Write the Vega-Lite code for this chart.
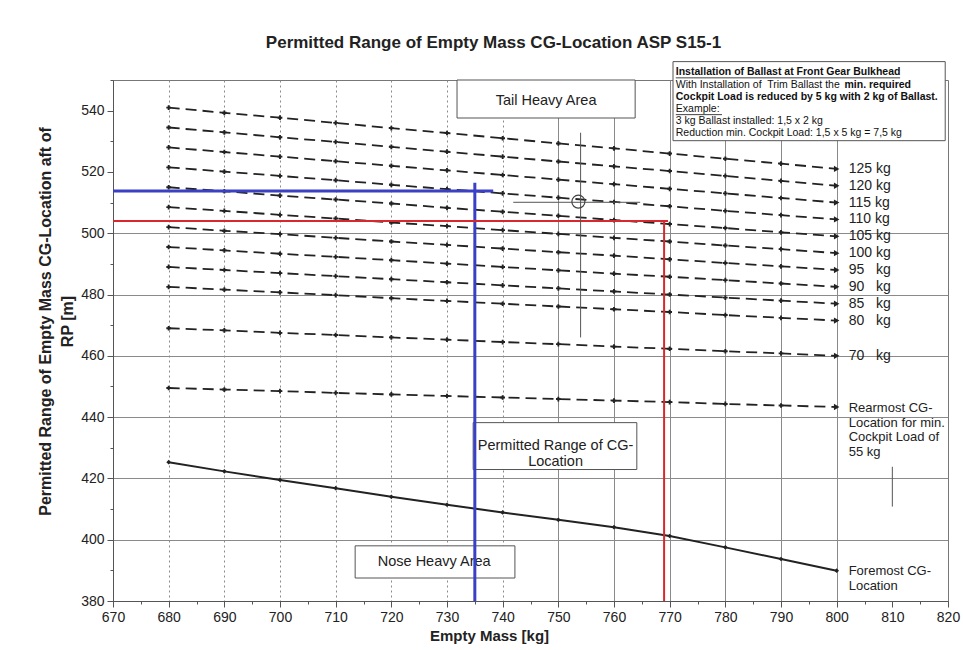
{
 "$schema": "https://vega.github.io/schema/vega-lite/v6.json",
 "width": 835, "height": 521,
 "autosize": {"type": "none"},
 "padding": {"left": 113, "top": 80, "right": 15, "bottom": 49},
 "background": "#ffffff",
 "title": {"text": "Permitted Range of Empty Mass CG-Location ASP S15-1", "fontSize": 17, "fontWeight": "bold", "color": "#222", "offset": 9, "dx": -37, "font": "Liberation Sans"},
 "config": {"font": "Liberation Sans", "view": {"stroke": "#777", "strokeWidth": 1}},
 "datasets": {
  "curves": [
   {"mass": 680, "w125": 541, "w120": 534.5, "w115": 528, "w110": 521.5, "w105": 515, "w100": 508.5, "w95": 502, "w90": 495.5, "w85": 489, "w80": 482.5, "w70": 469, "w55": 449.5, "front": 425.3},
   {"mass": 690, "w125": 539.3, "w120": 532.9, "w115": 526.5, "w110": 520.1, "w105": 513.7, "w100": 507.3, "w95": 500.8, "w90": 494.4, "w85": 488, "w80": 481.6, "w70": 468.3, "w55": 449, "front": 422.3},
   {"mass": 700, "w125": 537.7, "w120": 531.3, "w115": 525, "w110": 518.7, "w105": 512.3, "w100": 506, "w95": 499.7, "w90": 493.3, "w85": 487, "w80": 480.7, "w70": 467.5, "w55": 448.5, "front": 419.5},
   {"mass": 710, "w125": 536, "w120": 529.8, "w115": 523.5, "w110": 517.3, "w105": 511, "w100": 504.8, "w95": 498.5, "w90": 492.3, "w85": 486, "w80": 479.8, "w70": 466.8, "w55": 447.9, "front": 416.8},
   {"mass": 720, "w125": 534.3, "w120": 528.2, "w115": 522, "w110": 515.8, "w105": 509.7, "w100": 503.5, "w95": 497.3, "w90": 491.2, "w85": 485, "w80": 478.8, "w70": 466, "w55": 447.4, "front": 414.0},
   {"mass": 730, "w125": 532.7, "w120": 526.6, "w115": 520.5, "w110": 514.4, "w105": 508.3, "w100": 502.3, "w95": 496.2, "w90": 490.1, "w85": 484, "w80": 477.9, "w70": 465.3, "w55": 446.9, "front": 411.4},
   {"mass": 740, "w125": 531, "w120": 525, "w115": 519, "w110": 513, "w105": 507, "w100": 501, "w95": 495, "w90": 489, "w85": 483, "w80": 477, "w70": 464.5, "w55": 446.4, "front": 408.9},
   {"mass": 750, "w125": 529.3, "w120": 523.4, "w115": 517.5, "w110": 511.6, "w105": 505.7, "w100": 499.8, "w95": 493.8, "w90": 487.9, "w85": 482, "w80": 476.1, "w70": 463.8, "w55": 445.9, "front": 406.5},
   {"mass": 760, "w125": 527.7, "w120": 521.8, "w115": 516, "w110": 510.2, "w105": 504.3, "w100": 498.5, "w95": 492.7, "w90": 486.8, "w85": 481, "w80": 475.2, "w70": 463, "w55": 445.4, "front": 404.1},
   {"mass": 770, "w125": 526, "w120": 520.3, "w115": 514.5, "w110": 508.8, "w105": 503, "w100": 497.3, "w95": 491.5, "w90": 485.8, "w85": 480, "w80": 474.3, "w70": 462.3, "w55": 444.9, "front": 401.2},
   {"mass": 780, "w125": 524.3, "w120": 518.7, "w115": 513, "w110": 507.3, "w105": 501.7, "w100": 496, "w95": 490.3, "w90": 484.7, "w85": 479, "w80": 473.3, "w70": 461.5, "w55": 444.3, "front": 397.5},
   {"mass": 790, "w125": 522.7, "w120": 517.1, "w115": 511.5, "w110": 505.9, "w105": 500.3, "w100": 494.8, "w95": 489.2, "w90": 483.6, "w85": 478, "w80": 472.4, "w70": 460.8, "w55": 443.8, "front": 393.7},
   {"mass": 800, "w125": 521, "w120": 515.5, "w115": 510, "w110": 504.5, "w105": 499, "w100": 493.5, "w95": 488, "w90": 482.5, "w85": 477, "w80": 471.5, "w70": 460, "w55": 443.3, "front": 389.9}
  ],
  "boxes": [
   {"name": "tail", "mass": 731.8, "mass2": 763.8, "cg": 537.6, "cg2": 550},
   {"name": "range", "mass": 734.7, "mass2": 764.1, "cg": 422.9, "cg2": 438.2},
   {"name": "nose", "mass": 713.5, "mass2": 742.2, "cg": 387.5, "cg2": 398},
   {"name": "ballast", "mass": 770.6, "mass2": 819.5, "cg": 530.2, "cg2": 556}
  ],
  "boxtext": [
   {"text": "Tail Heavy Area", "mass": 747.8, "cg": 543.0},
   {"text": "Permitted Range of CG-\nLocation", "mass": 749.5, "cg": 430.5},
   {"text": "Nose Heavy Area", "mass": 727.7, "cg": 392.6}
  ],
  "note": [
   {"text": "Installation of Ballast at Front Gear Bulkhead", "mass": 771.1, "cg": 552.6, "bold": true},
   {"text": "With Installation of\u00a0 Trim Ballast the", "mass": 771.1, "cg": 548.5, "bold": false},
   {"text": "min. required", "mass": 801.4, "cg": 548.5, "bold": true},
   {"text": "Cockpit Load is reduced by 5 kg with 2 kg of Ballast.", "mass": 771.1, "cg": 544.6, "bold": true},
   {"text": "Example:", "mass": 771.1, "cg": 540.5, "bold": false},
   {"text": "3 kg Ballast installed: 1,5 x 2 kg", "mass": 771.1, "cg": 536.6, "bold": false},
   {"text": "Reduction min. Cockpit Load: 1,5 x 5 kg = 7,5 kg", "mass": 771.1, "cg": 532.7, "bold": false}
  ],
  "underline": [
   {"mass": 771.1, "mass2": 811.4, "cg": 550.7},
   {"mass": 771.1, "mass2": 779.4, "cg": 538.7}
  ],
  "endlabels": [
   {"text": "125 kg", "mass": 800, "cg": 521},
   {"text": "120 kg", "mass": 800, "cg": 515.5},
   {"text": "115 kg", "mass": 800, "cg": 510},
   {"text": "110 kg", "mass": 800, "cg": 504.5},
   {"text": "105 kg", "mass": 800, "cg": 499},
   {"text": "100 kg", "mass": 800, "cg": 493.5},
   {"text": "95\u00a0\u00a0 kg", "mass": 800, "cg": 488},
   {"text": "90\u00a0\u00a0 kg", "mass": 800, "cg": 482.5},
   {"text": "85\u00a0\u00a0 kg", "mass": 800, "cg": 477},
   {"text": "80\u00a0\u00a0 kg", "mass": 800, "cg": 471.5},
   {"text": "70\u00a0\u00a0 kg", "mass": 800, "cg": 460}
  ],
  "rearnote": [{"text": "Rearmost CG-\nLocation for min.\nCockpit Load of\n55 kg", "mass": 800, "cg": 443.3}],
  "frontnote": [{"text": "Foremost CG-\nLocation", "mass": 800, "cg": 389.9}],
  "guides": [
   {"guide": "blue", "mass": 670, "mass2": 738.3, "cg": 513.8, "cg2": 513.8},
   {"guide": "blue", "mass": 735, "mass2": 735, "cg": 516.5, "cg2": 380},
   {"guide": "red", "mass": 670, "mass2": 769.7, "cg": 504, "cg2": 504},
   {"guide": "red", "mass": 769, "mass2": 769, "cg": 504, "cg2": 380}
  ],
  "sketch": [
   {"mass": 754.0, "mass2": 754.0, "cg": 532.8, "cg2": 466},
   {"mass": 741.9, "mass2": 764.7, "cg": 510.1, "cg2": 510.1},
   {"mass": 810, "mass2": 810, "cg": 423.8, "cg2": 410.8}
  ],
  "circle": [{"mass": 753.6, "cg": 510.3}]
 },
 "encoding": {
  "x": {"field": "mass", "type": "quantitative",
   "scale": {"domain": [670, 820], "nice": false, "zero": false},
   "axis": {
    "title": "Empty Mass [kg]",
    "values": [670,675,680,685,690,695,700,705,710,715,720,725,730,735,740,745,750,755,760,765,770,775,780,785,790,795,800,805,810,815,820],
    "labelExpr": "datum.value % 10 === 0 ? datum.label : ''",
    "labelFontSize": 14, "labelColor": "#222", "labelPadding": 3, "labelOverlap": false, "labelFlush": false,
    "tickSize": {"condition": {"test": "datum.value % 10 === 0", "value": 6}, "value": 3},
    "tickColor": "#555", "domainColor": "#555",
    "grid": true,
    "gridOpacity": {"condition": {"test": "datum.value % 10 === 0 && datum.value >= 680 && datum.value <= 800", "value": 1}, "value": 0},
    "gridDash": {"condition": {"test": "datum.value <= 740", "value": [2, 3]}, "value": []},
    "gridColor": "#8a8a8a",
    "titleFontSize": 15, "titleFontWeight": "bold", "titleColor": "#222",
    "titleX": 376, "titleY": 27, "titleBaseline": "top", "titleAlign": "center"
   }},
  "y": {"field": "cg", "type": "quantitative",
   "scale": {"domain": [380, 550], "nice": false, "zero": false},
   "axis": {
    "title": ["Permitted Range of Empty Mass CG-Location aft of", "RP [m]"],
    "values": [380,390,400,410,420,430,440,450,460,470,480,490,500,510,520,530,540,550],
    "labelExpr": "datum.value % 20 === 0 && datum.value <= 540 ? datum.label : ''",
    "labelFontSize": 14, "labelColor": "#222", "labelPadding": 3, "labelOverlap": false, "labelFlush": false,
    "tickSize": {"condition": {"test": "datum.value % 20 === 0", "value": 6}, "value": 3},
    "tickColor": "#555", "domainColor": "#555",
    "grid": true,
    "gridOpacity": {"condition": {"test": "datum.value % 20 === 0 && datum.value > 380 && datum.value <= 500", "value": 1}, "value": 0},
    "gridColor": "#8a8a8a",
    "titleFontSize": 16, "titleFontWeight": "bold", "titleColor": "#222", "titleLineHeight": 22,
    "titleX": -76, "titleY": 241, "titleAngle": -90, "titleAlign": "center", "titleBaseline": "top"
   }}
 },
 "layer": [
  {"data": {"name": "boxes"}, "mark": {"type": "rect", "fill": "#ffffff", "stroke": "#555", "strokeWidth": 1},
   "encoding": {"x2": {"field": "mass2"}, "y2": {"field": "cg2"}}},
  {"data": {"name": "boxtext"}, "mark": {"type": "text", "fontSize": 14.5, "lineBreak": "\n", "lineHeight": 16, "align": "center", "baseline": "middle", "color": "#222"},
   "encoding": {"text": {"field": "text"}}},
  {"data": {"name": "note"}, "transform": [{"filter": "!datum.bold"}], "mark": {"type": "text", "fontSize": 10.5, "align": "left", "baseline": "middle", "color": "#111"},
   "encoding": {"text": {"field": "text"}}},
  {"data": {"name": "note"}, "transform": [{"filter": "datum.bold"}], "mark": {"type": "text", "fontSize": 10.5, "fontWeight": "bold", "align": "left", "baseline": "middle", "color": "#111"},
   "encoding": {"text": {"field": "text"}}},
  {"data": {"name": "underline"}, "mark": {"type": "rule", "color": "#111", "strokeWidth": 0.8},
   "encoding": {"x2": {"field": "mass2"}}},
  {"data": {"name": "curves"},
   "transform": [{"fold": ["w125","w120","w115","w110","w105","w100","w95","w90","w85","w80","w70","w55"], "as": ["series", "cg"]}],
   "mark": {"type": "line", "color": "#222", "strokeWidth": 1.8, "strokeDash": [11, 6]},
   "encoding": {"detail": {"field": "series"}}},
  {"data": {"name": "curves"},
   "transform": [{"fold": ["front"], "as": ["series", "cg"]}],
   "mark": {"type": "line", "color": "#222", "strokeWidth": 2},
   "encoding": {"detail": {"field": "series"}}},
  {"data": {"name": "curves"},
   "transform": [{"fold": ["w125","w120","w115","w110","w105","w100","w95","w90","w85","w80","w70","w55"], "as": ["series", "cg"]}, {"filter": "datum.mass < 800"}],
   "mark": {"type": "point", "shape": "cross", "size": 22, "filled": true, "color": "#222", "opacity": 1}},
  {"data": {"name": "curves"},
   "transform": [{"fold": ["w125","w120","w115","w110","w105","w100","w95","w90","w85","w80","w70","w55"], "as": ["series", "cg"]}, {"filter": "datum.mass === 800"}],
   "mark": {"type": "point", "shape": "triangle-right", "size": 40, "filled": true, "color": "#222", "opacity": 1}},
  {"data": {"name": "curves"},
   "transform": [{"fold": ["front"], "as": ["series", "cg"]}],
   "mark": {"type": "point", "shape": "diamond", "size": 22, "filled": true, "color": "#222", "opacity": 1}},
  {"data": {"name": "endlabels"}, "mark": {"type": "text", "fontSize": 14, "align": "left", "baseline": "middle", "dx": 12, "color": "#222"},
   "encoding": {"text": {"field": "text"}}},
  {"data": {"name": "rearnote"}, "mark": {"type": "text", "fontSize": 13, "lineBreak": "\n", "lineHeight": 14.5, "align": "left", "baseline": "top", "dx": 12, "dy": -5, "color": "#222"},
   "encoding": {"text": {"field": "text"}}},
  {"data": {"name": "frontnote"}, "mark": {"type": "text", "fontSize": 13, "lineBreak": "\n", "lineHeight": 15, "align": "left", "baseline": "middle", "dx": 12, "color": "#222"},
   "encoding": {"text": {"field": "text"}}},
  {"data": {"name": "guides"}, "mark": {"type": "rule"},
   "encoding": {"x2": {"field": "mass2"}, "y2": {"field": "cg2"},
    "color": {"field": "guide", "type": "nominal", "scale": {"domain": ["blue", "red"], "range": ["#3a3fc6", "#d8282c"]}, "legend": null},
    "strokeWidth": {"field": "guide", "type": "nominal", "scale": {"domain": ["blue", "red"], "range": [3, 2]}, "legend": null}}},
  {"data": {"name": "sketch"}, "mark": {"type": "rule", "color": "#555", "strokeWidth": 1},
   "encoding": {"x2": {"field": "mass2"}, "y2": {"field": "cg2"}}},
  {"data": {"name": "circle"}, "mark": {"type": "point", "shape": "circle", "size": 170, "filled": false, "stroke": "#444", "strokeWidth": 1.2, "opacity": 1}}
 ]
}
